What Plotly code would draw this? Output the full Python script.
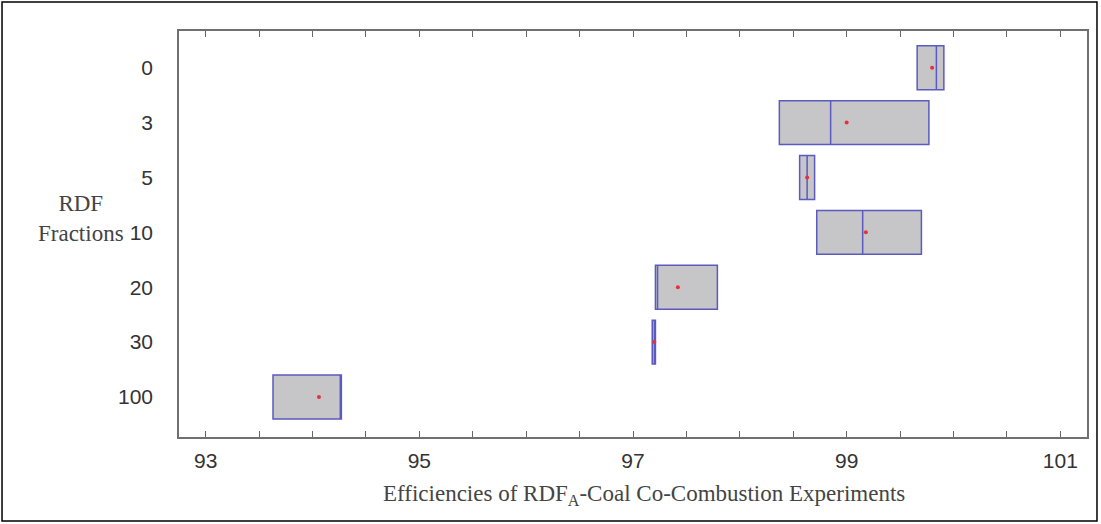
import plotly.graph_objects as go

categories = ["0", "3", "5", "10", "20", "30", "100"]
q1 = [99.66, 98.37, 98.56, 98.72, 97.21, 97.18, 93.63]
median = [99.84, 98.85, 98.63, 99.15, 97.23, 97.20, 94.26]
q3 = [99.91, 99.77, 98.70, 99.70, 97.79, 97.21, 94.27]
mean = [99.80, 99.00, 98.63, 99.18, 97.42, 97.20, 94.06]
x_tick_vals = [93, 95, 97, 99, 101]

fig = go.Figure()
fig.add_trace(go.Box(
    y=categories, q1=q1, median=median, q3=q3,
    lowerfence=q1, upperfence=q3,
    orientation="h", width=0.8, whiskerwidth=0,
    fillcolor="#c6c6c8", line=dict(color="#5a5ac0", width=1.5),
    boxpoints=False, showlegend=False, hoverinfo="skip",
))
fig.add_trace(go.Scatter(
    x=mean, y=categories, mode="markers",
    marker=dict(color="#e8303a", size=4), showlegend=False,
))

fig.update_layout(
    width=1101, height=524,
    margin=dict(l=179, r=14, t=31, b=87),
    paper_bgcolor="white", plot_bgcolor="white",
    font=dict(family="Liberation Sans, Arial", color="#333333"),
)
fig.update_xaxes(
    range=[92.75, 101.25], tickvals=x_tick_vals,
    ticks="inside", ticklen=6, tickcolor="#666666", tickwidth=1,
    minor=dict(dtick=0.5, ticks="inside", ticklen=6, tickcolor="#666666", tickwidth=1),
    showline=True, linecolor="#707070", linewidth=1.5, mirror="ticks",
    showgrid=False, zeroline=False,
    tickfont=dict(size=21, color="#333333"), ticklabelstandoff=4,
)
fig.update_yaxes(
    type="category", categoryorder="array", categoryarray=categories,
    range=[6.73, -0.67], ticks="",
    showline=True, linecolor="#707070", linewidth=1.5, mirror=True,
    showgrid=False, zeroline=False,
    tickfont=dict(size=21, color="#333333"), ticklabelstandoff=20,
)
fig.add_annotation(
    text="Efficiencies of RDF<sub>A</sub>-Coal Co-Combustion Experiments",
    xref="paper", yref="paper", x=0.5125, y=-0.143, yanchor="middle", showarrow=False,
    font=dict(family="Liberation Serif, Times New Roman", size=23, color="#444444"),
)
fig.add_annotation(
    text="RDF<br>Fractions", xref="paper", yref="paper", x=-0.108, y=0.539,
    xanchor="center", yanchor="middle", showarrow=False, align="center",
    font=dict(family="Liberation Serif, Times New Roman", size=23, color="#444444"),
)
fig.add_shape(type="rect", xref="paper", yref="paper",
              x0=-0.1949, x1=1.011, y0=-0.2069, y1=1.0714,
              line=dict(color="black", width=1.5))

fig.write_html("out.html")
